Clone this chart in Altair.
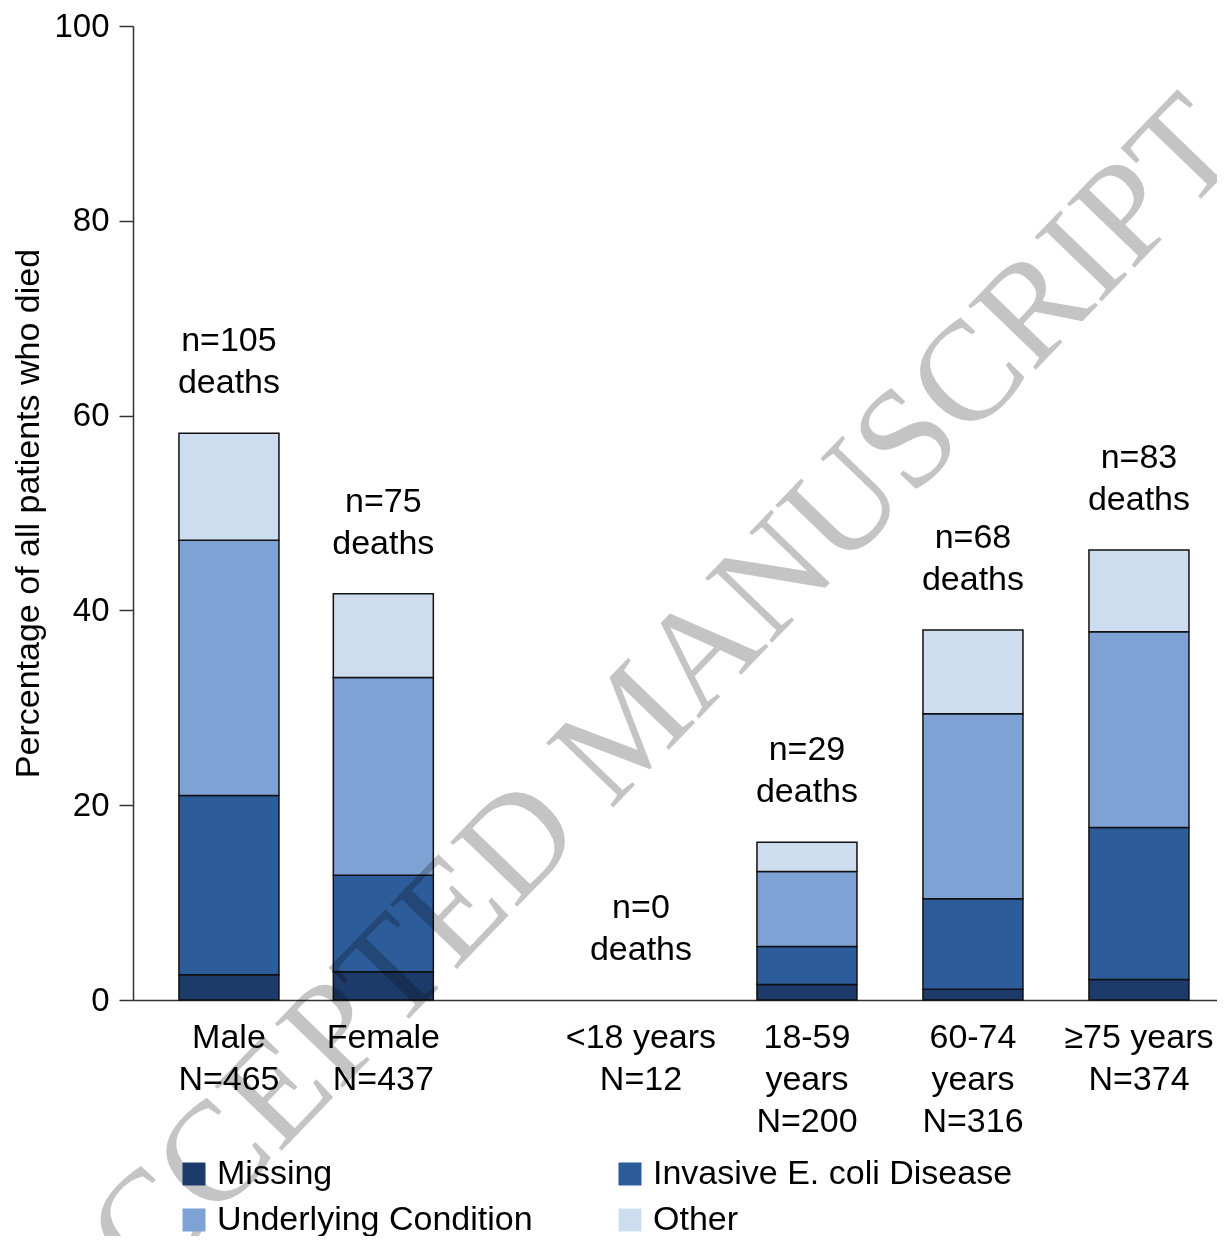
import altair as alt
import pandas as pd

# ---------------- data ----------------
categories = ["Male", "Female", "<18 years", "18-59 years", "60-74 years", "≥75 years"]
groups = ["sex", "sex", "age", "age", "age", "age"]
axis_labels = ["Male\nN=465", "Female\nN=437", "<18 years\nN=12",
               "18-59\nyears\nN=200", "60-74\nyears\nN=316", "≥75 years\nN=374"]
death_labels = ["n=105\ndeaths", "n=75\ndeaths", "n=0\ndeaths",
                "n=29\ndeaths", "n=68\ndeaths", "n=83\ndeaths"]

causes = ["Missing", "Invasive E. coli Disease", "Underlying Condition", "Other"]
missing = [2.6, 2.9, 0.0, 1.6, 1.1, 2.1]
invasive = [18.4, 9.9, 0.0, 3.9, 9.3, 15.6]
underlying = [26.2, 20.3, 0.0, 7.7, 19.0, 20.1]
other = [11.0, 8.6, 0.0, 3.0, 8.6, 8.4]

colors = ["#1c3b6b", "#2d5c9b", "#7fa2d5", "#cddcef"]
watermark = ["ACCEPTED MANUSCRIPT"]

# ---------------- layout helpers ----------------
W, H = 1084, 974
SLOT_PX = 166              # pixel width of one slot
SEX_STEP = 0.93            # slot step inside the sex group
AGE_START = 2.482          # first age slot (leaves a gap after the sex group)
X_START = -0.578
FONT = "Liberation Sans"
FS = 34

pos = []
k_sex = k_age = 0
for g in groups:
    if g == "sex":
        pos.append(k_sex * SEX_STEP)
        k_sex += 1
    else:
        pos.append(AGE_START + k_age)
        k_age += 1

rows = []
series = [missing, invasive, underlying, other]
for i, cat in enumerate(categories):
    base = 0.0
    for cause, vals in zip(causes, series):
        v = vals[i]
        rows.append({"category": cat, "pos": pos[i], "cause": cause,
                     "order": causes.index(cause), "y0": base, "y1": base + v, "value": v})
        base += v
seg_df = pd.DataFrame(rows)

tot_df = pd.DataFrame({
    "category": categories,
    "pos": pos,
    "total": [m + a + u + o for m, a, u, o in zip(missing, invasive, underlying, other)],
    "deaths": death_labels,
    "xlabel": axis_labels,
})
wm_df = pd.DataFrame({"wm": watermark})

# legend is filled column by column: list entries so rows read Missing|Invasive, Underlying|Other
legend_order = [causes[0], causes[2], causes[1], causes[3]]
legend_colors = [colors[0], colors[2], colors[1], colors[3]]

x_scale = alt.Scale(domain=[X_START, X_START + W / SLOT_PX], nice=False, zero=False, padding=0)
y_scale = alt.Scale(domain=[0, 100], nice=False, zero=True, padding=0)

bars = alt.Chart(seg_df).transform_filter("datum.value > 0").mark_bar(
    size=100, stroke="#111111", strokeWidth=1.5
).encode(
    x=alt.X("pos:Q", scale=x_scale,
            axis=alt.Axis(labels=False, ticks=False, grid=False, title=None,
                          domainColor="#333333", domainWidth=1.5)),
    y=alt.Y("y0:Q", scale=y_scale,
            axis=alt.Axis(values=[0, 20, 40, 60, 80, 100], grid=False,
                          title="Percentage of all patients who died")),
    y2="y1:Q",
    color=alt.Color("cause:N",
                    scale=alt.Scale(domain=legend_order, range=legend_colors),
                    legend=alt.Legend(title=None, orient="none", legendX=44, legendY=1131,
                                      columns=2, symbolType="square", symbolSize=529,
                                      symbolStrokeWidth=0, labelFontSize=FS, labelFont=FONT,
                                      labelColor="black", labelOffset=6, columnPadding=80,
                                      rowPadding=12, padding=0, labelLimit=600)),
    order=alt.Order("order:Q"),
)

deaths = alt.Chart(tot_df).mark_text(
    align="center", baseline="alphabetic", lineBreak="\n", lineHeight=42,
    fontSize=FS, font=FONT, color="black", dy=-82
).encode(
    x=alt.X("pos:Q", scale=x_scale),
    y=alt.Y("total:Q", scale=y_scale),
    text="deaths:N",
)

xlabels = alt.Chart(tot_df).mark_text(
    align="center", baseline="top", lineBreak="\n", lineHeight=42,
    fontSize=FS, font=FONT, color="black"
).encode(
    x=alt.X("pos:Q", scale=x_scale),
    y=alt.value(H + 21),
    text="xlabel:N",
)

wm = alt.Chart(wm_df).mark_text(
    align="center", baseline="middle", angle=314, fontSize=142,
    font="Liberation Serif", color="#c4c4c4", blend="multiply"
).encode(
    x=alt.value(497),
    y=alt.value(702),
    text="wm:N",
)

chart = alt.layer(bars, deaths, xlabels, wm).properties(
    width=W, height=H,
    autosize=alt.AutoSizeParams(type="none"),
    padding={"left": 125, "top": 18, "right": 0, "bottom": 236},
    background="white",
).configure_view(stroke=None).configure_axis(
    labelFont=FONT, labelFontSize=33, labelColor="black", labelPadding=10,
    tickSize=14, tickColor="#333333", tickWidth=1.5,
    domainColor="#333333", domainWidth=1.5,
    titleFont=FONT, titleFontSize=34, titleFontWeight="normal", titleColor="black",
    titlePadding=8,
)

chart.save("out.html", embed_options={"renderer": "svg", "actions": False})
